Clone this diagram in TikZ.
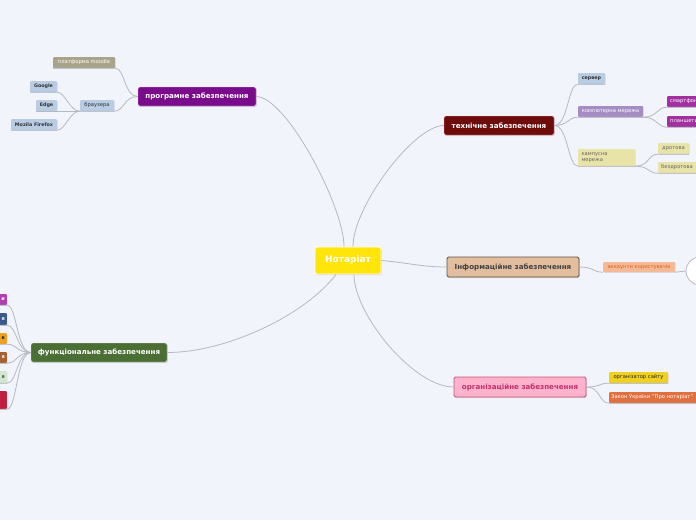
\documentclass[tikz,border=0pt]{standalone}
\usepackage{fontspec}
\setmainfont{DejaVu Sans}
\usetikzlibrary{shadows}
\definecolor{bgc}{RGB}{242,244,252}
\definecolor{linec}{RGB}{182,184,194}
\definecolor{yel}{RGB}{255,229,10}
\definecolor{purp}{RGB}{122,12,140}
\definecolor{dred}{RGB}{110,12,12}
\definecolor{dgreen}{RGB}{74,110,52}
\definecolor{tan}{RGB}{226,190,158}
\definecolor{tanb}{RGB}{94,82,70}
\definecolor{pinkf}{RGB}{255,178,204}
\definecolor{pinkb}{RGB}{200,80,122}
\definecolor{pinkt}{RGB}{192,48,106}
\definecolor{khaki}{RGB}{168,164,138}
\definecolor{lblue}{RGB}{184,204,228}
\definecolor{lav}{RGB}{166,140,196}
\definecolor{mag}{RGB}{162,48,160}
\definecolor{pyel}{RGB}{232,228,168}
\definecolor{peach}{RGB}{244,186,150}
\definecolor{orangt}{RGB}{228,92,36}
\definecolor{gold}{RGB}{240,208,32}
\definecolor{orng}{RGB}{224,112,64}
\definecolor{fpurp}{RGB}{176,64,176}
\definecolor{fblue}{RGB}{58,90,138}
\definecolor{forange}{RGB}{240,160,32}
\definecolor{fbrown}{RGB}{168,96,48}
\definecolor{fgreen}{RGB}{208,232,208}
\definecolor{fred}{RGB}{192,32,64}
\tikzset{
  conn/.style={draw=linec, line width=0.8pt},
  mainbox/.style={rounded corners=1.5pt, inner sep=0pt, font=\bfseries\fontsize{7.1}{8.5}\selectfont,
     drop shadow={shadow xshift=0.8pt, shadow yshift=-1pt, opacity=0.25}},
  subbox/.style={rounded corners=1pt, inner sep=0pt, font=\fontsize{5.2}{6}\selectfont,
     drop shadow={shadow xshift=0.6pt, shadow yshift=-0.8pt, opacity=0.2}},
  leftbox/.style={subbox, minimum width=50, text width=46, align=right, font=\bfseries\fontsize{5}{6}\selectfont}
}
\begin{document}
\begin{tikzpicture}[x=1pt,y=-1pt]
\fill[bgc] (0,0) rectangle (696,520);
\useasboundingbox (0,0) rectangle (696,520);
\clip (0,0) rectangle (696,520);

% central
\node[mainbox, fill=yel, draw=white, line width=0.8pt, text=white, minimum width=66, minimum height=27, font=\bfseries\fontsize{9}{10}\selectfont] (root) at (348,260.5) {Нотаріат};

% main branches
\node[mainbox, fill=purp, draw=white!80!purp, text=white, minimum width=118, minimum height=19] (prog) at (197,96.5) {програмне забезпечення};
\node[mainbox, fill=dred, draw=red!30!white, text=white, minimum width=110, minimum height=19] (tech) at (499,125.5) {технічне забезпечення};
\node[mainbox, fill=tan, draw=tanb, line width=0.9pt, text=black!75, minimum width=132, minimum height=20] (info) at (513,267) {Інформаційне забезпечення};
\node[mainbox, fill=dgreen, draw=white!80!dgreen, text=white, minimum width=136, minimum height=19] (func) at (99,352.5) {функціональне забезпечення};
\node[mainbox, fill=pinkf, draw=pinkb, line width=0.8pt, text=pinkt, minimum width=132, minimum height=20] (org) at (520,387) {організаційне забезпечення};

% main connectors
\draw[conn] (root.north) ++(-4,0) coordinate (r1) .. controls +(0,-40) and +(30,0) .. (prog.east);
\draw[conn] (root.north) ++(5,0) coordinate (r2) .. controls +(0,-40) and +(-30,0) .. (tech.west);
\draw[conn] (root.east) .. controls +(25,2) and +(-25,0) .. (info.west);
\draw[conn] (root.south) ++(6,0) coordinate (r3) .. controls +(0,40) and +(-40,0) .. (org.west);
\draw[conn] (root.south) ++(-12,0) coordinate (r4) .. controls +(-30,40) and +(60,0) .. (func.east);

% programne children
\node[subbox, fill=khaki, text=white, minimum width=62, minimum height=11] (moodle) at (84,62.5) {платформа moodle};
\node[subbox, fill=lblue, text=black!80, minimum width=34, minimum height=11] (brow) at (97,105.5) {браузера};
\node[subbox, fill=lblue, text=black!80, minimum width=27, minimum height=11, font=\bfseries\fontsize{4.8}{5.5}\selectfont] (google) at (43.5,86.5) {Google};
\node[subbox, fill=lblue, text=black!80, minimum width=21, minimum height=11, font=\bfseries\fontsize{4.8}{5.5}\selectfont] (edge) at (46.5,105.5) {Edge};
\node[subbox, fill=lblue, text=black!80, minimum width=46, minimum height=11, font=\bfseries\fontsize{4.8}{5.5}\selectfont] (ff) at (34,124.5) {Mozila Firefox};

\draw[conn] (prog.west) .. controls +(-14,0) and +(10,0) .. (moodle.south east) -- (moodle.south west);
\draw[conn] (prog.west) .. controls +(-14,0) and +(10,0) .. (brow.south east) -- (brow.south west);
\draw[conn] (brow.south west) .. controls +(-10,0) and +(8,0) .. (google.south east) -- (google.south west);
\draw[conn] (brow.south west) -- (edge.south east) -- (edge.south west);
\draw[conn] (brow.south west) .. controls +(-10,0) and +(8,0) .. (ff.south east) -- (ff.south west);

% tech children
\node[subbox, fill=lblue, text=black!80, minimum width=27, minimum height=11, font=\bfseries\fontsize{4.8}{5.5}\selectfont] (serv) at (591.5,78.5) {сервер};
\node[subbox, fill=lav, text=white, minimum width=65, minimum height=11] (net) at (610.5,111.5) {компютерна мережа};
\node[subbox, fill=pyel, text=black!60, minimum width=57, minimum height=17, text width=50, align=left] (camp) at (606.5,157.5) {кампусна\\ мережа};
\node[subbox, fill=mag, text=white, minimum width=40, minimum height=11, anchor=west, text width=34, align=left] (smart) at (667,101.5) {смартфони};
\node[subbox, fill=mag, text=white, minimum width=40, minimum height=11, anchor=west, text width=34, align=left] (tabl) at (667,121.5) {планшети};
\node[subbox, fill=pyel, text=black!60, minimum width=31, minimum height=11] (wire) at (673.5,148.5) {дротова};
\node[subbox, fill=pyel, text=black!60, minimum width=44, minimum height=11, anchor=west, text width=38, align=left] (wless) at (658,167.5) {бездротова};

\draw[conn] (tech.east) .. controls +(14,0) and +(-10,0) .. (serv.south west) -- (serv.south east);
\draw[conn] (tech.east) .. controls +(14,0) and +(-10,0) .. (net.south west) -- (net.south east);
\draw[conn] (tech.east) .. controls +(14,0) and +(-10,0) .. (camp.south west) -- (camp.south east);
\draw[conn] (net.south east) .. controls +(14,0) and +(-10,0) .. (smart.south west) -- (smart.south east);
\draw[conn] (net.south east) .. controls +(14,0) and +(-10,0) .. (tabl.south west) -- (tabl.south east);
\draw[conn] (camp.south east) .. controls +(14,0) and +(-10,0) .. (wire.south west) -- (wire.south east);
\draw[conn] (camp.south east) .. controls +(14,0) and +(-10,0) .. (wless.south west) -- (wless.south east);

% info children
\node[subbox, fill=peach, text=orangt, minimum width=72, minimum height=10] (acc) at (639,267) {аккаунти користувачів};
\node[circle, draw=linec, fill=white, line width=0.8pt, minimum size=28, inner sep=0pt] (circ) at (700,271) {};
\draw[conn] (info.east) .. controls +(14,0) and +(-10,0) .. (acc.south west);
\draw[conn] (acc.south east) -- (circ.west);

% org children
\node[subbox, fill=gold, text=black!85, minimum width=59, minimum height=11] (orgs) at (638.5,377.5) {організатор сайту};
\node[subbox, fill=orng, text=white, minimum width=92, minimum height=11, anchor=west, text width=88, align=left] (law) at (609,397.5) {Закон України "Про нотаріат"};
\draw[conn] (org.east) .. controls +(14,0) and +(-10,0) .. (orgs.south west) -- (orgs.south east);
\draw[conn] (org.east) .. controls +(14,0) and +(-10,0) .. (law.south west) -- (law.south east);

% func children (cut off at left edge)
\node[leftbox, fill=fpurp, text=white, minimum height=11, anchor=east] (f1) at (7,299.5) {и};
\node[leftbox, fill=fblue, text=white, minimum height=12, anchor=east] (f2) at (7,319) {я};
\node[leftbox, fill=forange, text=black!85, minimum height=11, anchor=east] (f3) at (7,338.5) {в};
\node[leftbox, fill=fbrown, text=white, minimum height=11, anchor=east] (f4) at (7,357.5) {я};
\node[leftbox, fill=fgreen, text=black!70, minimum height=12, anchor=east] (f5) at (7,377) {я};
\node[leftbox, fill=fred, text=white, minimum height=18, anchor=east] (f6) at (7,400) {};
\foreach \k in {f1,f2,f3,f4,f5,f6}{
  \draw[conn] (func.west) .. controls +(-14,0) and +(10,0) .. (\k.south east) -- (\k.south west);
}
\end{tikzpicture}
\end{document}
